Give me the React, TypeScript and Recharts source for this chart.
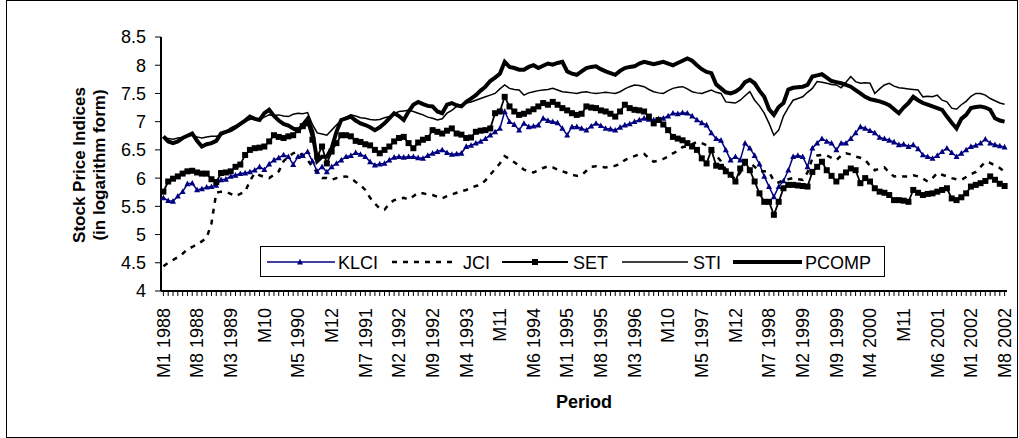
import { LineChart, Line, XAxis, YAxis, Label } from 'recharts';

const years = [1988, 1989, 1990, 1991, 1992, 1993, 1994, 1995, 1996, 1997, 1998, 1999, 2000, 2001, 2002];
const monthCount = 176;

const tickLabels = [
  'M1 1988', 'M8 1988', 'M3 1989', 'M10', 'M5 1990', 'M12', 'M7 1991', 'M2 1992', 'M9 1992',
  'M4 1993', 'M11', 'M6 1994', 'M1 1995', 'M8 1995', 'M3 1996', 'M10', 'M5 1997', 'M12',
  'M7 1998', 'M2 1999', 'M9 1999', 'M4 2000', 'M11', 'M6 2001', 'M1 2002', 'M8 2002',
];

const yTicks = [4, 4.5, 5, 5.5, 6, 6.5, 7, 7.5, 8, 8.5];

// one row per year, Jan..Dec (2002 stops at Aug)
const klci = [
  5.65, 5.60, 5.59, 5.68, 5.76, 5.90, 5.91, 5.79, 5.81, 5.84, 5.85, 5.87,
  5.97, 5.98, 6.03, 6.05, 6.08, 6.09, 6.11, 6.14, 6.20, 6.15, 6.25, 6.32,
  6.36, 6.41, 6.38, 6.24, 6.38, 6.40, 6.47, 6.30, 6.12, 6.20, 6.11, 6.20,
  6.26, 6.32, 6.38, 6.40, 6.45, 6.42, 6.38, 6.29, 6.23, 6.25, 6.26, 6.32,
  6.37, 6.38, 6.37, 6.38, 6.38, 6.36, 6.35, 6.40, 6.44, 6.47, 6.50, 6.45,
  6.42, 6.43, 6.44, 6.56, 6.58, 6.62, 6.65, 6.70, 6.76, 6.82, 6.88, 7.18,
  7.00, 6.95, 6.85, 6.97, 6.91, 6.92, 6.94, 7.06, 7.02, 7.00, 6.98, 6.88,
  6.76, 6.91, 6.91, 6.88, 6.85, 6.92, 6.97, 6.93, 6.88, 6.87, 6.85, 6.90,
  6.94, 6.96, 7.00, 7.03, 7.06, 7.04, 7.03, 7.05, 7.06, 7.10, 7.15, 7.14,
  7.16, 7.15, 7.10, 7.03, 6.98, 6.94, 6.80, 6.70, 6.67, 6.50, 6.32, 6.38,
  6.32, 6.62, 6.53, 6.40, 6.25, 6.03, 5.85, 5.67, 5.85, 5.95, 6.14, 6.38,
  6.40, 6.38, 6.20, 6.53, 6.62, 6.70, 6.65, 6.62, 6.50, 6.62, 6.62, 6.70,
  6.80, 6.91, 6.88, 6.84, 6.80, 6.72, 6.70, 6.67, 6.64, 6.59, 6.60, 6.56,
  6.59, 6.52, 6.41, 6.38, 6.35, 6.40, 6.47, 6.53, 6.45, 6.38, 6.44, 6.50,
  6.56, 6.58, 6.62, 6.69, 6.62, 6.59, 6.57, 6.55,
];

const jci = [
  4.44, 4.50, 4.55, 4.60, 4.66, 4.74, 4.78, 4.83, 4.88, 4.94, 5.20, 5.74,
  5.76, 5.76, 5.72, 5.68, 5.72, 5.76, 5.95, 6.09, 6.05, 6.02, 6.00, 6.06,
  6.12, 6.30, 6.38, 6.44, 6.47, 6.40, 6.32, 6.20, 6.09, 6.00, 6.00, 5.97,
  6.00, 6.02, 6.03, 6.00, 5.93, 5.88, 5.79, 5.65, 5.55, 5.46, 5.44, 5.55,
  5.61, 5.63, 5.65, 5.62, 5.68, 5.74, 5.73, 5.71, 5.70, 5.67, 5.64, 5.68,
  5.71, 5.74, 5.77, 5.79, 5.83, 5.86, 5.88, 5.96, 6.06, 6.16, 6.26, 6.39,
  6.34, 6.28, 6.22, 6.15, 6.12, 6.10, 6.14, 6.18, 6.21, 6.19, 6.15, 6.12,
  6.09, 6.06, 6.04, 6.05, 6.13, 6.20, 6.21, 6.20, 6.19, 6.21, 6.22, 6.25,
  6.32, 6.36, 6.39, 6.42, 6.43, 6.35, 6.29, 6.31, 6.34, 6.38, 6.44, 6.48,
  6.55, 6.56, 6.60, 6.64, 6.62, 6.58, 6.50, 6.40, 6.30, 6.15, 6.05, 5.98,
  6.10, 6.25, 6.28, 6.20, 6.12, 6.12, 6.11, 5.95, 5.92, 5.97, 5.98, 6.00,
  5.98, 5.97, 6.10, 6.35, 6.40, 6.41, 6.40, 6.36, 6.32, 6.40, 6.44, 6.42,
  6.38, 6.36, 6.32, 6.22, 6.14, 6.17, 6.19, 6.10, 6.03, 6.04, 6.03, 6.03,
  6.05, 6.03, 5.99, 5.94, 6.00, 6.09, 6.06, 6.03, 6.00, 5.98, 5.97, 6.02,
  6.07, 6.11, 6.20, 6.29, 6.27, 6.22, 6.18, 6.11,
];

const set = [
  5.76, 5.94, 5.99, 6.03, 6.08, 6.12, 6.13, 6.10, 6.08, 6.08, 5.98, 5.93,
  6.09, 6.10, 6.12, 6.20, 6.24, 6.41, 6.50, 6.53, 6.54, 6.56, 6.65, 6.76,
  6.73, 6.71, 6.74, 6.76, 6.85, 6.92, 6.97, 6.68, 6.38, 6.56, 6.26, 6.47,
  6.62, 6.76, 6.76, 6.74, 6.66, 6.64, 6.60, 6.58, 6.50, 6.44, 6.50, 6.56,
  6.65, 6.71, 6.73, 6.62, 6.53, 6.63, 6.68, 6.71, 6.85, 6.82, 6.79, 6.84,
  6.88, 6.79, 6.77, 6.71, 6.72, 6.82, 6.84, 6.85, 6.88, 7.15, 7.18, 7.44,
  7.27, 7.18, 7.12, 7.14, 7.18, 7.22, 7.27, 7.33, 7.30, 7.35, 7.30, 7.24,
  7.20, 7.15, 7.12, 7.14, 7.27, 7.25, 7.24, 7.20, 7.18, 7.14, 7.09, 7.18,
  7.30, 7.24, 7.21, 7.20, 7.18, 7.09, 6.97, 7.03, 6.95, 6.85, 6.73, 6.70,
  6.67, 6.62, 6.56, 6.50, 6.35, 6.26, 6.50, 6.22, 6.20, 6.12, 6.06, 5.94,
  6.17, 6.29, 6.14, 5.94, 5.73, 5.58, 5.58, 5.35, 5.58, 5.82, 5.88, 5.88,
  5.87, 5.86, 5.85, 6.11, 6.20, 6.29, 6.14, 6.04, 5.94, 6.03, 6.10, 6.17,
  6.14, 5.91, 6.00, 5.94, 5.82, 5.76, 5.74, 5.70, 5.61, 5.61, 5.60, 5.58,
  5.79, 5.74, 5.70, 5.72, 5.73, 5.76, 5.79, 5.82, 5.64, 5.61, 5.66, 5.73,
  5.85, 5.88, 5.91, 5.95, 6.03, 5.97, 5.90, 5.86,
];

const sti = [
  6.71, 6.70, 6.69, 6.71, 6.72, 6.74, 6.76, 6.73, 6.71, 6.73, 6.74, 6.74,
  6.76, 6.82, 6.89, 6.93, 6.97, 7.00, 7.04, 7.06, 7.04, 7.08, 7.12, 7.11,
  7.12, 7.10, 7.09, 7.13, 7.15, 7.14, 7.16, 6.95, 6.80, 6.78, 6.76, 6.85,
  6.94, 7.03, 7.08, 7.12, 7.10, 7.07, 7.06, 7.04, 7.03, 7.04, 7.07, 7.09,
  7.14, 7.18, 7.19, 7.20, 7.18, 7.15, 7.12, 7.08, 7.06, 7.03, 7.05, 7.15,
  7.20, 7.27, 7.30, 7.33, 7.35, 7.38, 7.41, 7.44, 7.47, 7.50, 7.58, 7.65,
  7.59, 7.57, 7.56, 7.47, 7.51, 7.53, 7.55, 7.56, 7.57, 7.59, 7.56, 7.53,
  7.52, 7.51, 7.50, 7.52, 7.53, 7.51, 7.50, 7.51, 7.52, 7.51, 7.50, 7.53,
  7.58, 7.62, 7.65, 7.64, 7.62, 7.57, 7.53, 7.51, 7.50, 7.55, 7.59, 7.61,
  7.62, 7.58, 7.53, 7.51, 7.50, 7.53, 7.56, 7.52, 7.50, 7.35, 7.34, 7.33,
  7.38, 7.46, 7.53, 7.38, 7.28, 7.15, 6.97, 6.76, 6.85, 7.10, 7.25, 7.38,
  7.41, 7.44, 7.52, 7.59, 7.71, 7.70, 7.68, 7.66, 7.65, 7.60, 7.70, 7.80,
  7.71, 7.68, 7.69, 7.68, 7.50, 7.58, 7.65, 7.68, 7.63, 7.60, 7.59, 7.58,
  7.57, 7.56, 7.44, 7.45, 7.44, 7.47, 7.38, 7.35, 7.24, 7.22, 7.30, 7.36,
  7.45, 7.50, 7.50, 7.47, 7.41, 7.37, 7.33, 7.31,
];

const pcomp = [
  6.74, 6.65, 6.62, 6.65, 6.71, 6.75, 6.79, 6.66, 6.56, 6.60, 6.62, 6.66,
  6.79, 6.82, 6.85, 6.90, 6.96, 7.02, 7.09, 7.05, 7.03, 7.15, 7.21, 7.10,
  7.02, 6.96, 6.93, 6.88, 6.84, 6.94, 7.05, 6.82, 6.30, 6.38, 6.38, 6.53,
  6.82, 7.03, 7.06, 7.09, 7.02, 6.97, 6.94, 6.90, 6.85, 6.90, 6.97, 7.06,
  7.15, 7.10, 7.03, 7.18, 7.30, 7.35, 7.31, 7.28, 7.27, 7.18, 7.15, 7.30,
  7.33, 7.29, 7.27, 7.35, 7.41, 7.47, 7.55, 7.62, 7.72, 7.78, 7.85, 8.06,
  7.97, 7.95, 7.92, 7.92, 7.97, 8.00, 7.95, 7.99, 8.03, 8.01, 8.04, 8.06,
  7.89, 7.85, 7.83, 7.89, 7.95, 7.97, 7.98, 7.93, 7.89, 7.86, 7.83, 7.90,
  7.95, 7.97, 7.98, 8.03, 8.06, 8.04, 8.02, 8.04, 8.06, 8.03, 8.00, 8.04,
  8.08, 8.12, 8.08, 8.00, 7.93, 7.88, 7.86, 7.66, 7.59, 7.52, 7.50, 7.53,
  7.59, 7.70, 7.74, 7.68, 7.55, 7.44, 7.22, 7.12, 7.26, 7.33, 7.57, 7.60,
  7.61, 7.62, 7.65, 7.80, 7.82, 7.84, 7.78, 7.72, 7.70, 7.68, 7.65, 7.62,
  7.56, 7.50, 7.44, 7.40, 7.38, 7.36, 7.33, 7.29, 7.22, 7.15, 7.25, 7.33,
  7.44, 7.38, 7.33, 7.30, 7.27, 7.24, 7.21, 7.09, 6.98, 6.88, 7.05, 7.12,
  7.24, 7.26, 7.27, 7.25, 7.21, 7.06, 7.02, 7.00,
];

const periods: string[] = [];
years.forEach((y) => {
  for (let m = 1; m <= 12; m++) {
    if (periods.length < monthCount) periods.push(`M${m} ${y}`);
  }
});

const data = periods.map((period, i) => ({
  period,
  KLCI: klci[i],
  JCI: jci[i],
  SET: set[i],
  STI: sti[i],
  PCOMP: pcomp[i],
}));

const NAVY = '#000080';
const FONT = '"Liberation Sans", Arial, Helvetica, sans-serif';

const XTick = (props: any) => {
  const { x, index } = props;
  if (index % 7 !== 0) return <g />;
  return (
    <text
      x={x}
      y={308}
      transform={`rotate(-90 ${x} 308)`}
      textAnchor="end"
      dy="0.35em"
      fontSize={18}
      fill="#000"
      fontFamily={FONT}
    >
      {tickLabels[index / 7]}
    </text>
  );
};

const triangleDot = (props: any) => {
  const { cx, cy, index } = props;
  return (
    <path
      key={`t${index}`}
      d={`M${cx},${cy - 3.2} L${cx + 3},${cy + 2.4} L${cx - 3},${cy + 2.4} Z`}
      fill={NAVY}
    />
  );
};

const squareDot = (props: any) => {
  const { cx, cy, index } = props;
  return <rect key={`s${index}`} x={cx - 3} y={cy - 3} width={6} height={6} fill="#000" />;
};

const YTitle = () => (
  <g fontFamily={FONT} fontWeight="bold" fontSize={17} fill="#000">
    <text transform="translate(85 165) rotate(-90)" textAnchor="middle">Stock Price Indices</text>
    <text transform="translate(105 165) rotate(-90)" textAnchor="middle">(in logarithm form)</text>
  </g>
);

const XTitle = () => (
  <text x={584} y={408} textAnchor="middle" fontFamily={FONT} fontWeight="bold" fontSize={18} fill="#000">
    Period
  </text>
);

const ChartLegend = () => (
  <svg
    width={626}
    height={32}
    style={{ position: 'absolute', left: 260, top: 246 }}
    fontFamily={FONT}
    fontSize={18}
  >
    <rect x={0.5} y={0.5} width={624} height={30} fill="#fff" stroke="#000" />
    <line x1={7} y1={16} x2={75} y2={16} stroke={NAVY} strokeWidth={1.5} />
    <path d="M40,12.8 L43,18.4 L37,18.4 Z" fill={NAVY} />
    <text x={78} y={22.5}>KLCI</text>
    <line x1={132} y1={16} x2={194} y2={16} stroke="#000" strokeWidth={2.5} strokeDasharray="5 6" />
    <text x={203} y={22.5}>JCI</text>
    <line x1={242} y1={16} x2={308} y2={16} stroke="#000" strokeWidth={1.8} />
    <rect x={272} y={13} width={6} height={6} fill="#000" />
    <text x={313} y={22.5}>SET</text>
    <line x1={362} y1={16} x2={428} y2={16} stroke="#000" strokeWidth={1.5} />
    <text x={433} y={22.5}>STI</text>
    <line x1={473} y1={16} x2={542} y2={16} stroke="#000" strokeWidth={4} />
    <text x={545} y={22.5}>PCOMP</text>
  </svg>
);

export default function App() {
  return (
    <div
      style={{
        position: 'absolute',
        left: 0,
        top: 0,
        width: 1019,
        height: 438,
        background: '#fff',
        fontFamily: FONT,
      }}
    >
      <div
        style={{
          position: 'absolute',
          left: 6,
          top: 0,
          width: 1010,
          height: 436,
          border: '1px solid #000',
        }}
      />
      <LineChart width={1019} height={438} data={data} margin={{ top: 37, right: 12, bottom: 0, left: 0 }}>
        <XAxis
          dataKey="period"
          interval={0}
          height={147}
          tick={XTick}
          tickSize={5}
          tickLine={{ stroke: '#000' }}
          axisLine={{ stroke: '#000', strokeWidth: 2 }}
          padding={{ left: 2.4, right: 2.4 }}
        >
          <Label content={XTitle} />
        </XAxis>
        <XAxis
          xAxisId="top"
          orientation="top"
          dataKey="period"
          height={0}
          tick={false}
          tickLine={false}
          axisLine={{ stroke: '#000', strokeWidth: 2 }}
        />
        <YAxis
          domain={[4, 8.5]}
          ticks={yTicks}
          width={161}
          tickSize={6}
          tickMargin={9}
          tick={{ fontSize: 18, fill: '#000', fontFamily: FONT }}
          tickLine={{ stroke: '#000' }}
          axisLine={{ stroke: '#000', strokeWidth: 2 }}
        >
          <Label content={YTitle} />
        </YAxis>
        <YAxis
          yAxisId="right"
          orientation="right"
          domain={[4, 8.5]}
          width={0}
          tick={false}
          tickLine={false}
          axisLine={{ stroke: '#000', strokeWidth: 2 }}
        />
        <Line dataKey="KLCI" stroke={NAVY} strokeWidth={1.5} dot={triangleDot} activeDot={false} isAnimationActive={false} />
        <Line dataKey="JCI" stroke="#000" strokeWidth={2.5} strokeDasharray="5 6" dot={false} activeDot={false} isAnimationActive={false} />
        <Line dataKey="SET" stroke="#000" strokeWidth={1.8} dot={squareDot} activeDot={false} isAnimationActive={false} />
        <Line dataKey="STI" stroke="#000" strokeWidth={1.5} dot={false} activeDot={false} isAnimationActive={false} />
        <Line dataKey="PCOMP" stroke="#000" strokeWidth={4} dot={false} activeDot={false} isAnimationActive={false} />
      </LineChart>
      <ChartLegend />
    </div>
  );
}
